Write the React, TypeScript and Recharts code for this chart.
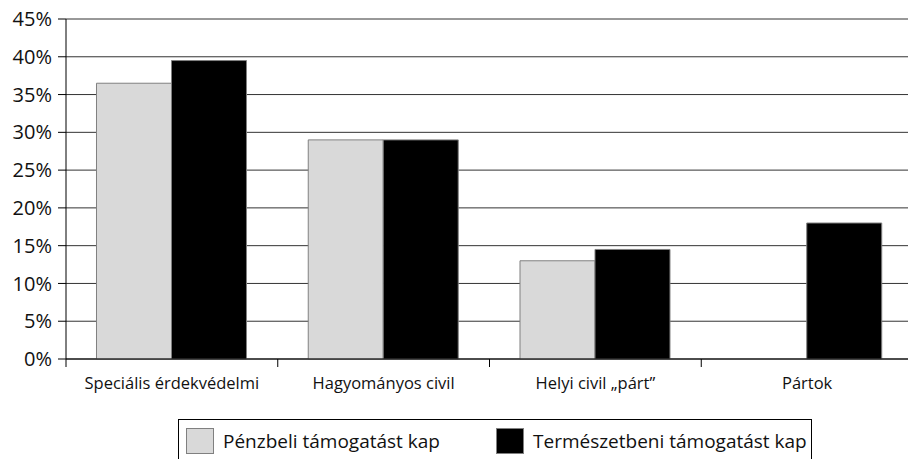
import React from 'react';
import { BarChart, Bar, XAxis, YAxis, CartesianGrid, Legend } from 'recharts';

const categories = ['Speciális érdekvédelmi', 'Hagyományos civil', 'Helyi civil „párt”', 'Pártok'];
const penzbeli = [36.5, 29, 13, 0];
const termeszetbeni = [39.5, 29, 14.5, 18];
const yTicks = [0, 5, 10, 15, 20, 25, 30, 35, 40, 45];

const seriesNames = ['Pénzbeli támogatást kap', 'Természetbeni támogatást kap'];
const seriesColors = ['#d9d9d9', '#000000'];

const data = categories.map((name, i) => ({
  name,
  penzbeli: penzbeli[i],
  termeszetbeni: termeszetbeni[i]
}));

const FONT = '"Open Sans", "Noto Sans", sans-serif';
const CHART_W = 913;
const CHART_H = 459;
const Y_AXIS_W = 66;
const X_AXIS_H = 100;
const halfBand = (CHART_W - Y_AXIS_W) / categories.length / 2;

const CategoryTick = (props: any) => {
  const { x, y, payload } = props;
  return (
    <g>
      <line x1={x - halfBand} y1={y} x2={x - halfBand} y2={y + 8} stroke="#000" />
      <text x={x} y={y + 30} textAnchor="middle" fontSize={16.5} fill="#111" fontFamily={FONT}>
        {payload.value}
      </text>
    </g>
  );
};

// legend items sit at fixed offsets inside the framed box
const itemLeft = [7, 317];

const LegendBox = () => (
  <div
    style={{
      position: 'relative',
      border: '1px solid #000',
      height: 48,
      boxSizing: 'border-box',
      fontFamily: FONT,
      fontSize: 19,
      color: '#111'
    }}
  >
    {seriesNames.map((n, i) => (
      <div key={n} style={{ position: 'absolute', left: itemLeft[i], top: 8, display: 'flex', alignItems: 'center' }}>
        <span
          style={{
            display: 'inline-block',
            width: 28,
            height: 26,
            background: seriesColors[i],
            border: '1px solid #808080',
            boxSizing: 'border-box',
            marginRight: 9
          }}
        />
        <span style={{ lineHeight: '26px', whiteSpace: 'nowrap' }}>{n}</span>
      </div>
    ))}
  </div>
);

const App: React.FC = () => {
  return (
    <div style={{ position: 'absolute', left: 0, top: 0, width: 908, height: 459, overflow: 'hidden', background: '#fff' }}>
      <BarChart
        width={CHART_W}
        height={CHART_H}
        data={data}
        margin={{ top: 19, right: 0, left: 0, bottom: 0 }}
        barCategoryGap="14.4%"
        barGap={0}
      >
        <CartesianGrid vertical={false} stroke="#333" />
        <XAxis
          dataKey="name"
          height={X_AXIS_H}
          axisLine={{ stroke: '#000' }}
          tickLine={false}
          tickSize={0}
          tickMargin={0}
          interval={0}
          tick={<CategoryTick />}
        />
        <YAxis
          width={Y_AXIS_W}
          domain={[0, 45]}
          ticks={yTicks}
          interval={0}
          axisLine={{ stroke: '#000' }}
          tickLine={{ stroke: '#000' }}
          tickSize={8}
          tickMargin={6}
          tickFormatter={(v: number) => `${v}%`}
          tick={{ fill: '#111', fontSize: 20, fontFamily: FONT }}
        />
        <Legend
          verticalAlign="middle"
          layout="horizontal"
          wrapperStyle={{ left: 178, top: 419, width: 634 }}
          content={() => <LegendBox />}
        />
        <Bar
          dataKey="penzbeli"
          name={seriesNames[0]}
          fill={seriesColors[0]}
          stroke="#808080"
          strokeWidth={1}
          isAnimationActive={false}
        />
        <Bar
          dataKey="termeszetbeni"
          name={seriesNames[1]}
          fill={seriesColors[1]}
          stroke="#808080"
          strokeWidth={1}
          isAnimationActive={false}
        />
      </BarChart>
    </div>
  );
};

export default App;
